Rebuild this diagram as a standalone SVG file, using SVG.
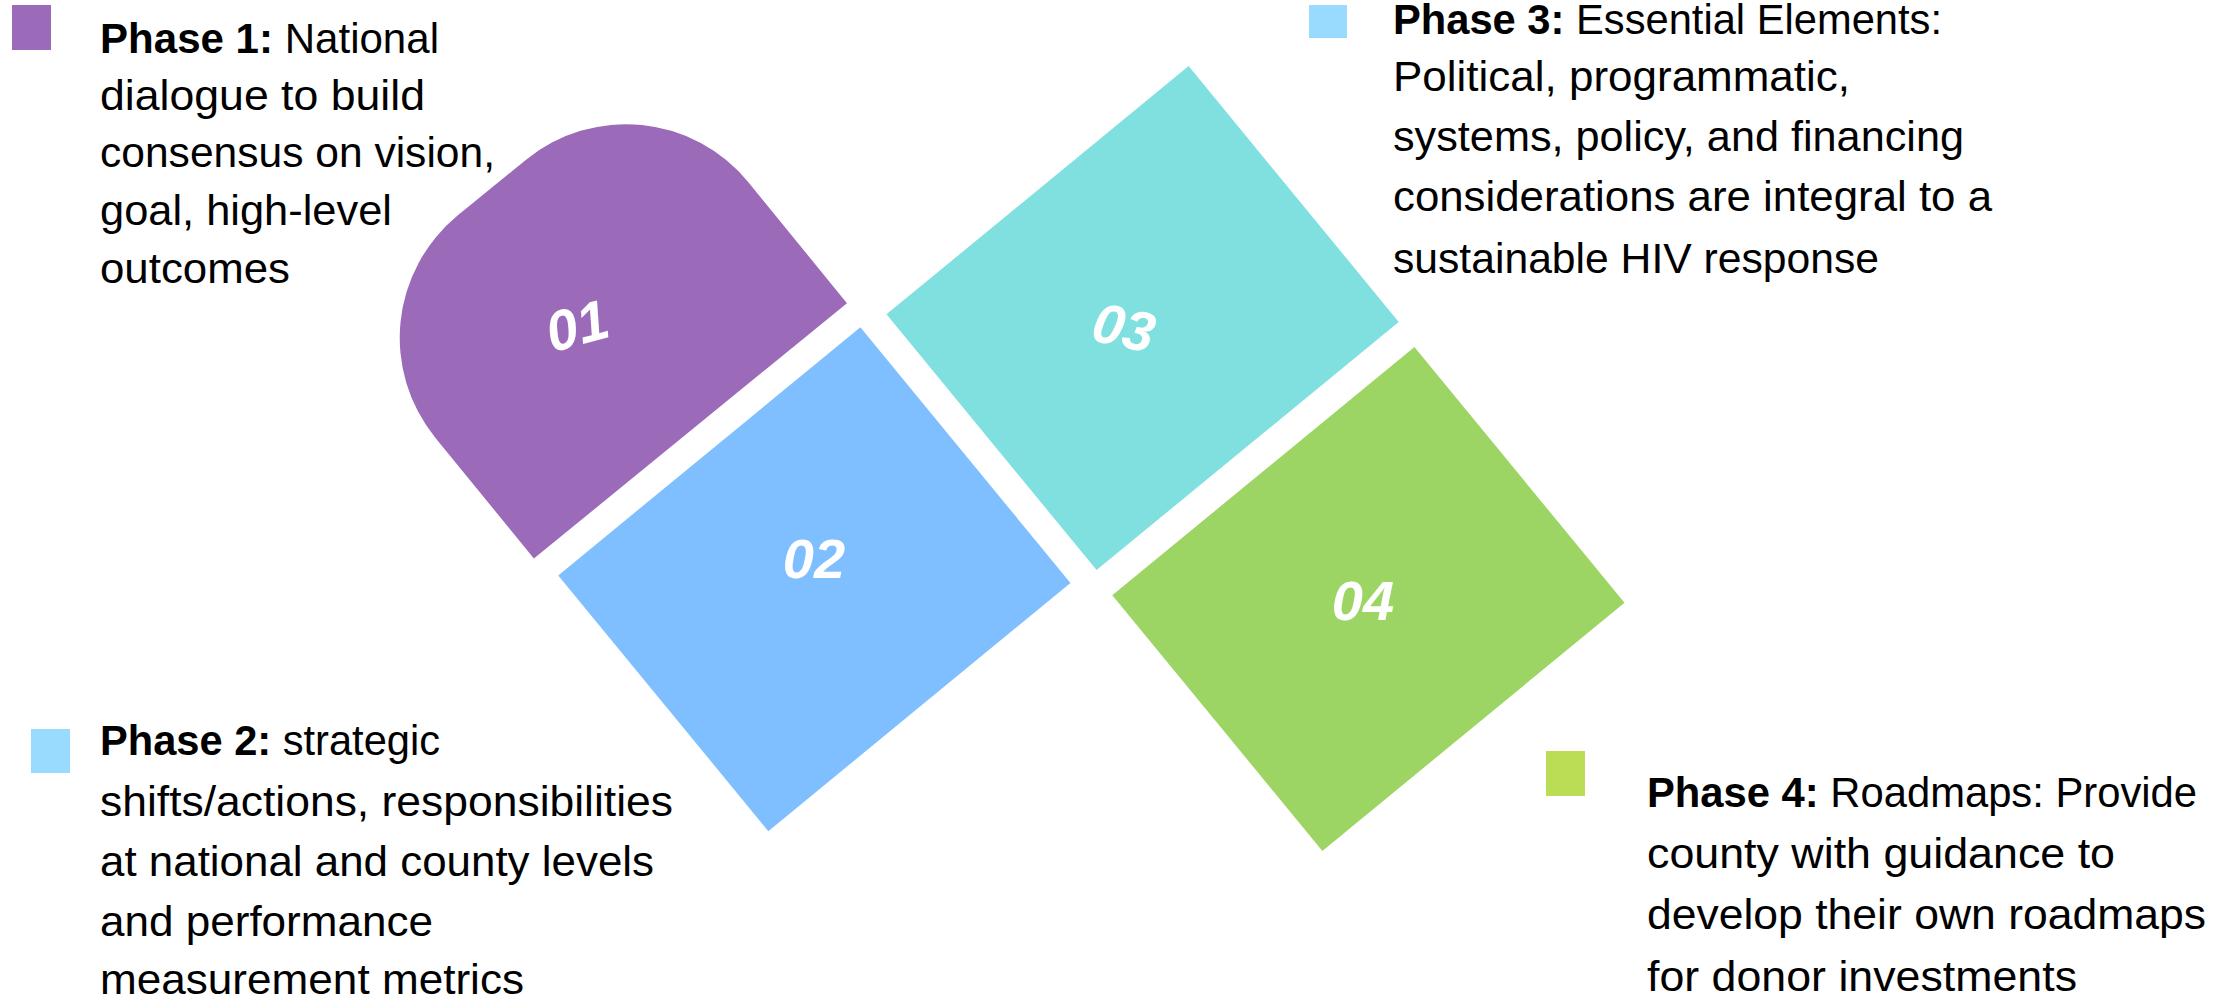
<svg xmlns="http://www.w3.org/2000/svg" width="2237" height="1004" viewBox="0 0 2237 1004">
<style>
.t{font-family:"Liberation Sans",Arial,sans-serif;font-size:42px;fill:#000}
.b{font-weight:bold}
.num{font-family:"Liberation Sans",Arial,sans-serif;font-size:56px;font-weight:bold;font-style:italic;fill:#fff;text-anchor:middle}
</style>
<rect width="2237" height="1004" fill="#fff"/>
<g id="node-01">
<path transform="translate(591.2,309.2) rotate(-39.2)" d="M202,1 L202,157 L-202,157 L-202,1 A158,158 0 0 1 -44,-157 L44,-157 A158,158 0 0 1 202,1 Z" fill="#9B6BBA"/>
<text class="num" transform="translate(577,325) rotate(-15)" x="0" y="20">01</text>
</g>
<g id="node-02">
<rect transform="translate(814.35,579.2) rotate(-39.4)" x="-195.5" y="-165.5" width="391" height="331" fill="#80BFFF"/>
<text class="num" x="814" y="578">02</text>
</g>
<g id="node-03">
<rect transform="translate(1142.6,318.1) rotate(-39.4)" x="-195.5" y="-165.5" width="391" height="331" fill="#80E0DF"/>
<text class="num" transform="translate(1124,327) rotate(12)" x="0" y="20">03</text>
</g>
<g id="node-04">
<rect transform="translate(1368.4,599) rotate(-39.4)" x="-195.5" y="-165.5" width="391" height="331" fill="#9DD564"/>
<text class="num" x="1363" y="620">04</text>
</g>
<g id="connectors"></g>
<g id="label-phase-1">
<rect x="12" y="5" width="39" height="45" fill="#9B6BBA"/>
<text class="t" x="100" y="53" textLength="339" lengthAdjust="spacingAndGlyphs"><tspan class="b">Phase 1:</tspan> National</text>
<text class="t" x="100" y="110" textLength="325" lengthAdjust="spacingAndGlyphs">dialogue to build</text>
<text class="t" x="100" y="167" textLength="395" lengthAdjust="spacingAndGlyphs">consensus on vision,</text>
<text class="t" x="100" y="225" textLength="292" lengthAdjust="spacingAndGlyphs">goal, high-level</text>
<text class="t" x="100" y="283" textLength="190" lengthAdjust="spacingAndGlyphs">outcomes</text>
</g>
<g id="label-phase-2">
<rect x="31" y="729" width="39" height="44" fill="#99DBFF"/>
<text class="t" x="100" y="755" textLength="340" lengthAdjust="spacingAndGlyphs"><tspan class="b">Phase 2:</tspan> strategic</text>
<text class="t" x="100" y="816" textLength="573" lengthAdjust="spacingAndGlyphs">shifts/actions, responsibilities</text>
<text class="t" x="100" y="876" textLength="554" lengthAdjust="spacingAndGlyphs">at national and county levels</text>
<text class="t" x="100" y="936" textLength="333" lengthAdjust="spacingAndGlyphs">and performance</text>
<text class="t" x="100" y="994" textLength="424" lengthAdjust="spacingAndGlyphs">measurement metrics</text>
</g>
<g id="label-phase-3">
<rect x="1309" y="5" width="38" height="33" fill="#99DBFF"/>
<text class="t" x="1393" y="34" textLength="549" lengthAdjust="spacingAndGlyphs"><tspan class="b">Phase 3:</tspan> Essential Elements:</text>
<text class="t" x="1393" y="91" textLength="457" lengthAdjust="spacingAndGlyphs">Political, programmatic,</text>
<text class="t" x="1393" y="151" textLength="571" lengthAdjust="spacingAndGlyphs">systems, policy, and financing</text>
<text class="t" x="1393" y="211" textLength="599" lengthAdjust="spacingAndGlyphs">considerations are integral to a</text>
<text class="t" x="1393" y="273" textLength="486" lengthAdjust="spacingAndGlyphs">sustainable HIV response</text>
</g>
<g id="label-phase-4">
<rect x="1546" y="751" width="39" height="45" fill="#BADD55"/>
<text class="t" x="1647" y="807" textLength="550" lengthAdjust="spacingAndGlyphs"><tspan class="b">Phase 4:</tspan> Roadmaps: Provide</text>
<text class="t" x="1647" y="868" textLength="468" lengthAdjust="spacingAndGlyphs">county with guidance to</text>
<text class="t" x="1647" y="929" textLength="559" lengthAdjust="spacingAndGlyphs">develop their own roadmaps</text>
<text class="t" x="1647" y="991" textLength="430" lengthAdjust="spacingAndGlyphs">for donor investments</text>
</g>
</svg>
